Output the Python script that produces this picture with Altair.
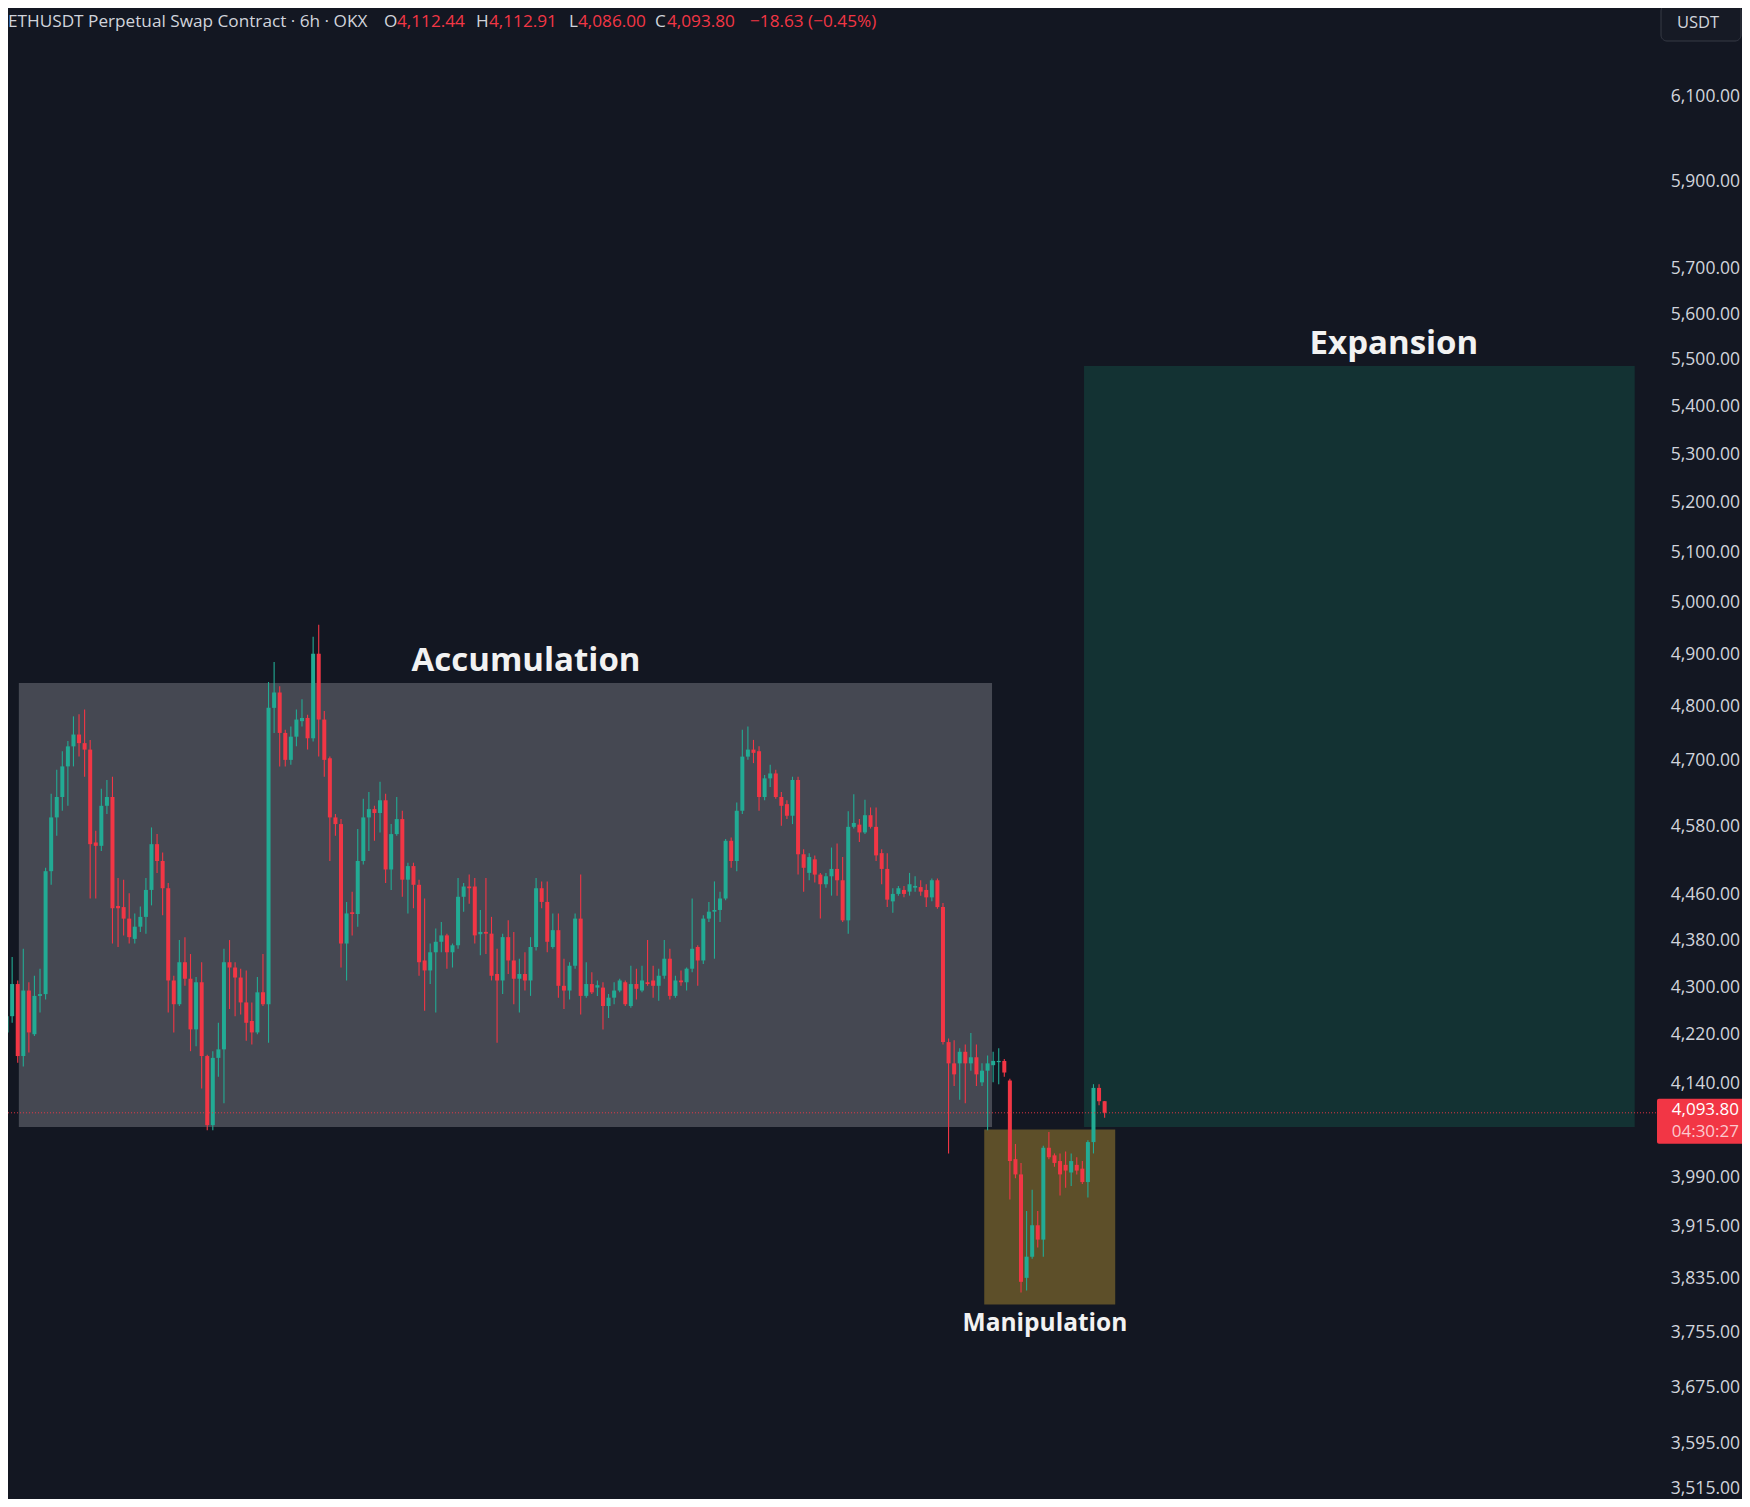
import altair as alt
import pandas as pd

# ---------------- data ----------------
opens = [4180, 4225, 4252, 4306, 4186, 4295, 4222, 4286, 4289, 4501,
         4597, 4634, 4690, 4727, 4749, 4733, 4721, 4552, 4546, 4618,
         4634, 4440, 4438, 4418, 4383, 4404, 4421, 4468, 4549, 4519,
         4471, 4312, 4272, 4343, 4315, 4230, 4309, 4186, 4074, 4183,
         4197, 4343, 4334, 4317, 4275, 4244, 4225, 4292, 4272, 4799,
         4828, 4752, 4702, 4745, 4774, 4780, 4742, 4902, 4777, 4705,
         4597, 4585, 4375, 4429, 4426, 4519, 4597, 4612, 4605, 4628,
         4504, 4567, 4594, 4486, 4510, 4477, 4346, 4329, 4360, 4378,
         4389, 4360, 4372, 4456, 4474, 4474, 4391, 4395, 4392, 4323,
         4312, 4386, 4346, 4315, 4323, 4312, 4369, 4471, 4447, 4369,
         4398, 4303, 4295, 4337, 4418, 4286, 4306, 4300, 4300, 4269,
         4283, 4295, 4309, 4269, 4306, 4295, 4309, 4312, 4303, 4320,
         4349, 4286, 4312, 4309, 4332, 4369, 4346, 4418, 4430, 4433,
         4453, 4555, 4519, 4609, 4708, 4721, 4718, 4634, 4668, 4677,
         4634, 4621, 4600, 4665, 4531, 4498, 4522, 4495, 4478, 4492,
         4505, 4485, 4415, 4580, 4584, 4570, 4601, 4580, 4533, 4505,
         4448, 4461, 4468, 4465, 4472, 4473, 4468, 4455, 4485, 4438,
         4209, 4174, 4174, 4193, 4174, 4184, 4143, 4162, 4171, 4176,
         4178, 4146, 4020, 3996, 3837, 3869, 3917, 3895, 4038, 4026,
         4017, 4011, 3999, 4011, 4005, 3984, 4047, 4134, 4112.44]
highs = [4250, 4261, 4352, 4312, 4366, 4309, 4320, 4332, 4507, 4640,
         4684, 4718, 4737, 4783, 4787, 4796, 4739, 4573, 4649, 4665,
         4671, 4489, 4486, 4462, 4427, 4439, 4489, 4579, 4567, 4534,
         4480, 4320, 4381, 4386, 4357, 4318, 4343, 4188, 4194, 4241,
         4366, 4381, 4343, 4332, 4329, 4275, 4318, 4357, 4848, 4886,
         4840, 4758, 4764, 4796, 4815, 4786, 4935, 4958, 4793, 4708,
         4603, 4594, 4447, 4465, 4576, 4631, 4643, 4618, 4662, 4640,
         4585, 4634, 4609, 4516, 4516, 4486, 4453, 4375, 4401, 4412,
         4392, 4375, 4489, 4480, 4495, 4489, 4433, 4489, 4421, 4366,
         4392, 4415, 4395, 4349, 4360, 4386, 4489, 4483, 4483, 4427,
         4427, 4349, 4343, 4427, 4495, 4343, 4326, 4312, 4309, 4289,
         4309, 4315, 4312, 4337, 4332, 4337, 4381, 4337, 4332, 4381,
         4366, 4320, 4329, 4334, 4453, 4372, 4424, 4447, 4483, 4465,
         4558, 4561, 4624, 4758, 4764, 4739, 4727, 4674, 4693, 4684,
         4643, 4628, 4671, 4671, 4540, 4533, 4529, 4498, 4498, 4543,
         4550, 4526, 4608, 4639, 4594, 4629, 4615, 4615, 4540, 4533,
         4471, 4475, 4475, 4498, 4492, 4485, 4478, 4488, 4488, 4445,
         4215, 4212, 4199, 4205, 4224, 4205, 4174, 4187, 4193, 4199,
         4181, 4149, 4044, 4014, 3939, 3972, 3939, 4041, 4063, 4029,
         4029, 4032, 4029, 4023, 4017, 4050, 4140, 4140, 4112.91]
lows = [4160, 4192, 4241, 4175, 4169, 4192, 4219, 4258, 4280, 4477,
        4564, 4609, 4618, 4690, 4708, 4671, 4453, 4453, 4537, 4603,
        4375, 4369, 4389, 4375, 4375, 4395, 4392, 4441, 4498, 4424,
        4258, 4225, 4269, 4303, 4194, 4202, 4133, 4066, 4066, 4152,
        4109, 4264, 4252, 4255, 4211, 4205, 4222, 4269, 4208, 4752,
        4690, 4690, 4693, 4727, 4764, 4721, 4736, 4708, 4671, 4519,
        4564, 4334, 4312, 4389, 4404, 4513, 4537, 4555, 4570, 4480,
        4468, 4564, 4456, 4427, 4436, 4320, 4261, 4306, 4258, 4360,
        4332, 4334, 4366, 4430, 4444, 4375, 4355, 4357, 4312, 4208,
        4289, 4323, 4272, 4258, 4295, 4286, 4363, 4436, 4360, 4366,
        4283, 4264, 4280, 4332, 4255, 4283, 4289, 4286, 4230, 4249,
        4272, 4292, 4269, 4266, 4280, 4292, 4303, 4283, 4278, 4315,
        4280, 4283, 4303, 4295, 4326, 4303, 4340, 4412, 4349, 4412,
        4450, 4507, 4501, 4603, 4702, 4696, 4609, 4628, 4652, 4631,
        4582, 4594, 4585, 4495, 4465, 4485, 4481, 4418, 4472, 4458,
        4458, 4412, 4392, 4577, 4553, 4567, 4577, 4519, 4478, 4438,
        4428, 4458, 4455, 4458, 4465, 4458, 4438, 4448, 4435, 4205,
        4029, 4137, 4115, 4109, 4162, 4137, 4137, 4066, 4143, 4140,
        4152, 3957, 3990, 3815, 3818, 3866, 3883, 3869, 4020, 4008,
        3963, 3975, 3978, 3996, 3981, 3960, 4029, 4106, 4086.00]
closes = [4246, 4252, 4306, 4186, 4295, 4225, 4286, 4289, 4501, 4597,
          4634, 4690, 4727, 4749, 4733, 4721, 4549, 4546, 4618, 4634,
          4436, 4436, 4418, 4386, 4404, 4421, 4468, 4549, 4519, 4471,
          4312, 4272, 4343, 4315, 4230, 4309, 4186, 4074, 4183, 4197,
          4343, 4334, 4317, 4275, 4241, 4225, 4292, 4272, 4799, 4828,
          4752, 4702, 4745, 4777, 4780, 4742, 4902, 4777, 4702, 4597,
          4585, 4375, 4427, 4426, 4519, 4597, 4612, 4605, 4628, 4504,
          4567, 4594, 4486, 4510, 4477, 4343, 4329, 4360, 4378, 4389,
          4360, 4372, 4456, 4474, 4471, 4389, 4395, 4392, 4320, 4312,
          4386, 4346, 4315, 4323, 4312, 4369, 4471, 4447, 4378, 4398,
          4303, 4295, 4337, 4418, 4286, 4306, 4292, 4304, 4269, 4283,
          4295, 4312, 4272, 4306, 4298, 4312, 4306, 4303, 4320, 4349,
          4286, 4312, 4309, 4332, 4366, 4346, 4418, 4430, 4433, 4453,
          4555, 4519, 4609, 4708, 4721, 4715, 4634, 4668, 4677, 4634,
          4618, 4600, 4665, 4531, 4507, 4526, 4495, 4478, 4492, 4505,
          4485, 4415, 4580, 4587, 4570, 4601, 4580, 4529, 4505, 4451,
          4461, 4471, 4461, 4478, 4475, 4465, 4455, 4485, 4438, 4209,
          4174, 4156, 4193, 4174, 4184, 4156, 4162, 4174, 4178, 4178,
          4159, 4017, 3996, 3831, 3869, 3917, 3895, 4038, 4023, 4014,
          3996, 4002, 4017, 4002, 3984, 4047, 4134, 4112.44, 4093.80]

zone_names = ["Accumulation", "Manipulation", "Expansion"]
zone_start = [3.2, 176.4, 194.3]      # candle index
zone_end = [177.8, 199.9, 293.1]
zone_top = [4846, 4067, 5488]         # price
zone_bottom = [4071, 3797, 4071]
zone_fill = ["#454852", "#5d4f29", "#133233"]

label_idx = [94.2, 187.3, 249.9]
label_price = [4888, 3768, 5536]
label_font = [33, 24.5, 33]

y_ticks = [6100, 5900, 5700, 5600, 5500, 5400, 5300, 5200, 5100, 5000,
           4900, 4800, 4700, 4580, 4460, 4380, 4300, 4220, 4140, 3990,
           3915, 3835, 3755, 3675, 3595, 3515]

symbol_text = "ETHUSDT Perpetual Swap Contract \u00b7 6h \u00b7 OKX"
change_text = "\u221218.63 (\u22120.45%)"
countdown = "04:30:27"
currency = "USDT"

# ---------------- styling ----------------
BG = "#131722"
UP = "#22ab94"
DOWN = "#f23645"
TXT = "#d1d4dc"
FONT = "Open Sans"
W, H = 1649, 1491
PAD_R = 85

n = len(closes)
candles = pd.DataFrame({
    "i": list(range(n)), "open": opens, "high": highs,
    "low": lows, "close": closes,
})
candles["dir"] = ["up" if c >= o else "down" for o, c in zip(opens, closes)]

zones = pd.DataFrame({"name": zone_names, "x0": zone_start, "x1": zone_end,
                      "top": zone_top, "bottom": zone_bottom})
labels = pd.DataFrame({"name": zone_names, "x": label_idx, "y": label_price,
                       "fs": label_font})
last = pd.DataFrame({"p": [closes[-1]]})
ticks = pd.DataFrame({"t": y_ticks})

xs = alt.Scale(domain=[1.256, 297.1], nice=False, zero=False, padding=0)
ys = alt.Scale(type="log", domain=[3518, 6316], nice=False, zero=False, padding=0)
dir_scale = alt.Scale(domain=["up", "down"], range=[UP, DOWN])

zone_layer = alt.Chart(zones).mark_rect().encode(
    x=alt.X("x0:Q", scale=xs, axis=None), x2="x1",
    y=alt.Y("top:Q", scale=ys, axis=None), y2="bottom",
    fill=alt.Fill("name:N", scale=alt.Scale(domain=zone_names, range=zone_fill), legend=None),
)

wicks = alt.Chart(candles).mark_rule(strokeWidth=1.1).encode(
    x=alt.X("i:Q", scale=xs, axis=None),
    y=alt.Y("low:Q", scale=ys, axis=None), y2="high",
    color=alt.Color("dir:N", scale=dir_scale, legend=None),
)

bodies = alt.Chart(candles).mark_bar(width=4.0).encode(
    x=alt.X("i:Q", scale=xs, axis=None),
    y=alt.Y("open:Q", scale=ys, axis=None),
    y2="close",
    color=alt.Color("dir:N", scale=dir_scale, legend=None),
)

# price-axis labels (right side), positioned by the y scale
tick_labels = alt.Chart(ticks).transform_filter("datum.t > 3516").mark_text(
    font=FONT, fontSize=17.5, color=TXT, align="right", baseline="middle").encode(
    y=alt.Y("t:Q", scale=ys, axis=None), x=alt.value(W + 83),
    text=alt.Text("t:Q", format=",.2f"),
)
tick_label_bottom = alt.Chart(ticks).transform_filter("datum.t <= 3516").mark_text(
    font=FONT, fontSize=17.5, color=TXT, align="right", baseline="bottom", dy=-3).encode(
    y=alt.Y("t:Q", scale=ys, axis=None), x=alt.value(W + 83),
    text=alt.Text("t:Q", format=",.2f"),
)

price_line = alt.Chart(last).mark_rule(color="#f23645", strokeDash=[1, 2], strokeWidth=1, opacity=0.9).encode(
    y=alt.Y("p:Q", scale=ys, axis=None), x=alt.value(0), x2=alt.value(W),
)

zone_text = alt.Chart(labels).mark_text(font=FONT, fontWeight="bold", color="#f2f2f2",
                                        baseline="middle", align="center").encode(
    x=alt.X("x:Q", scale=xs, axis=None),
    y=alt.Y("y:Q", scale=ys, axis=None),
    text="name:N",
    size=alt.Size("fs:Q", scale=None, legend=None),
)

price_box = alt.Chart(last).mark_rect(color="#f23645", yOffset=-14, y2Offset=31, cornerRadius=2).encode(
    y=alt.Y("p:Q", scale=ys, axis=None), y2="p", x=alt.value(W), x2=alt.value(W + 88),
)
price_txt = alt.Chart(last).mark_text(font=FONT, fontSize=17, color="#ffffff", align="right",
                                      baseline="middle", dy=-3).encode(
    y=alt.Y("p:Q", scale=ys, axis=None), x=alt.value(W + 82),
    text=alt.Text("p:Q", format=",.2f"),
)
count_txt = alt.Chart(last).mark_text(font=FONT, fontSize=17, color="#fcc9ce", align="right",
                                      baseline="middle", dy=19).encode(
    y=alt.Y("p:Q", scale=ys, axis=None), x=alt.value(W + 82),
    text=alt.value(countdown),
)

one = alt.Data(values=[{"k": 1}])


def px_text(txt, x, y, color, size=17.2, weight="normal", align="left"):
    return alt.Chart(one).mark_text(font=FONT, fontSize=size, fontWeight=weight, color=color,
                                    align=align, baseline="middle").encode(
        x=alt.value(x), y=alt.value(y), text=alt.value(txt))


hdr_y = 14
header = [
    px_text(symbol_text, 0, hdr_y, TXT),
    px_text("O", 376, hdr_y, TXT),
    px_text(f"{opens[-1]:,.2f}", 389, hdr_y, "#f23645"),
    px_text("H", 468, hdr_y, TXT),
    px_text(f"{highs[-1]:,.2f}", 481, hdr_y, "#f23645"),
    px_text("L", 561, hdr_y, TXT),
    px_text(f"{lows[-1]:,.2f}", 570, hdr_y, "#f23645"),
    px_text("C", 647, hdr_y, TXT),
    px_text(f"{closes[-1]:,.2f}", 659, hdr_y, "#f23645"),
    px_text(change_text, 742, hdr_y, "#f23645"),
]

usdt_box = alt.Chart(one).mark_rect(fill="#161a25", stroke="#363a45", strokeWidth=1, cornerRadius=6).encode(
    x=alt.value(W + 4), x2=alt.value(W + 84), y=alt.value(-3), y2=alt.value(33))
usdt_txt = px_text(currency, W + 41, 15, TXT, size=16.5, align="center")

chart = alt.layer(
    zone_layer, wicks, bodies, price_line, zone_text, tick_labels, tick_label_bottom,
    price_box, price_txt, count_txt, usdt_box, usdt_txt, *header,
).properties(
    width=W, height=H,
    autosize=alt.AutoSizeParams(type="none"),
    padding={"left": 0, "top": 0, "right": PAD_R, "bottom": 0},
).configure(background=BG).configure_view(stroke=None)

chart.save("out.html", embed_options={"renderer": "svg", "actions": False})
